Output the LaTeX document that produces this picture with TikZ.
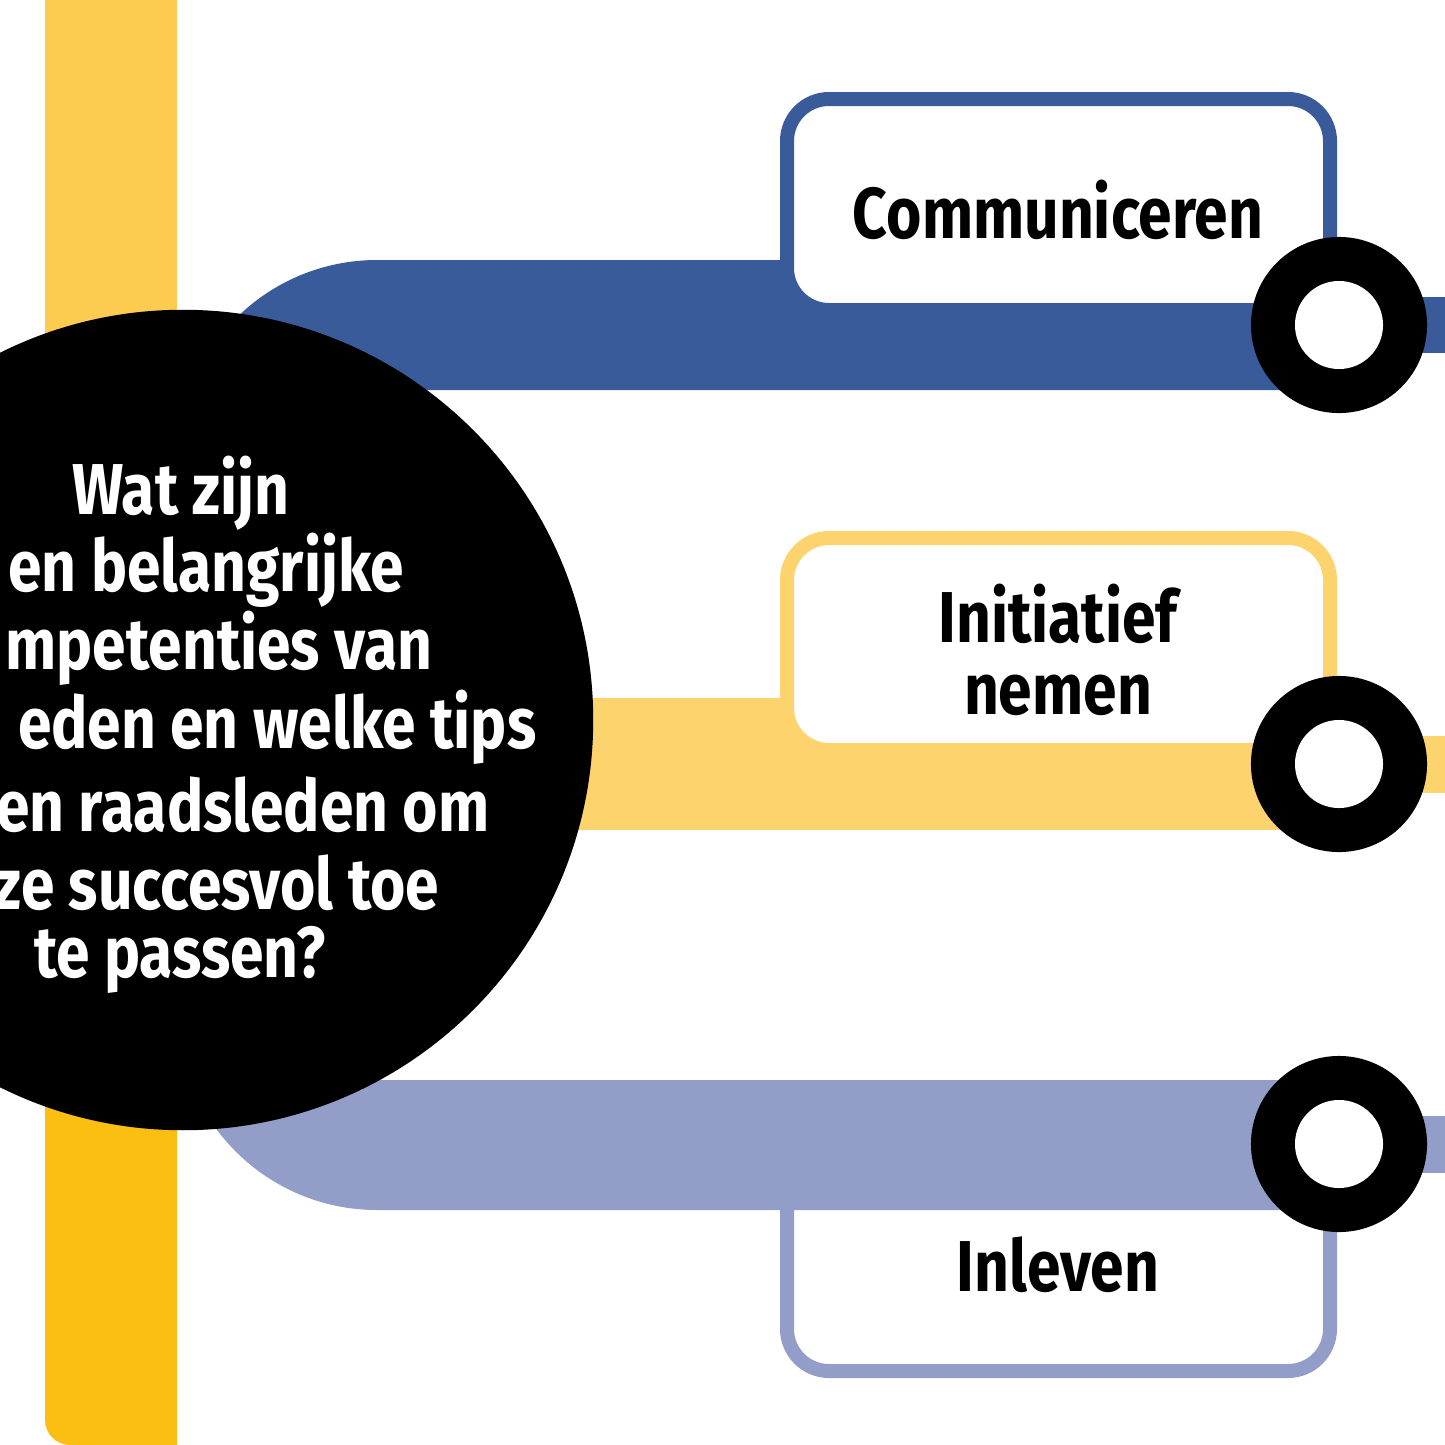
\documentclass[tikz,border=0pt]{standalone}
\usepackage{fontspec}
\newfontfamily\cf[FakeStretch=0.84]{Fira Sans}
\definecolor{cblue}{HTML}{3A5B9A}
\definecolor{cyel}{HTML}{FDD36E}
\definecolor{barA}{HTML}{FDCB4F}
\definecolor{barB}{HTML}{FABF10}
\definecolor{clav}{HTML}{939EC8}
\tikzset{
 lbl/.style={font=\cf\bfseries\fontsize{20.5}{22}\selectfont, align=center, inner sep=0pt},
 qtxt/.style={font=\cf\bfseries\fontsize{20.5}{22}\selectfont, text=white, inner sep=0pt},
 boxline/.style={line width=0.14cm, fill=white, rounded corners=0.42cm},
}
\begin{document}
\begin{tikzpicture}[x=0.01cm,y=-0.01cm]
\useasboundingbox (0,0) rectangle (1445,1445);
\clip (0,0) rectangle (1445,1445);
% vertical bar
\fill[barA] (45,-10) rectangle (177,720);
\fill[barB] (45,720) [rounded corners=0.25cm]-- (45,1445) [sharp corners]-- (177,1445) -- (177,720) -- cycle;
% blue branch
\fill[cblue] (177,390) [rounded corners=2cm]-- (177,260) [sharp corners]-- (1300,260) -- (1300,390) -- cycle;
\fill[cblue] (1339,297) rectangle (1450,353);
\draw[boxline, draw=cblue] (787,99) rectangle (1330,310);
\node[lbl] (t1) at (1058,210) {Communiceren};
% yellow branch
\fill[cyel] (177,698) rectangle (1300,830);
\fill[cyel] (1339,736) rectangle (1450,793);
\draw[boxline, draw=cyel] (787,538) rectangle (1330,750);
\node[lbl] (t2) at (1058,650) {Initiatief\\[-0.06cm]nemen};
% lavender branch
\draw[boxline, draw=clav] (787,1167) rectangle (1330,1371);
\fill[clav] (177,1080) [sharp corners]-- (1300,1080) -- (1300,1210) [rounded corners=2cm]-- (177,1210) [sharp corners]-- cycle;
\fill[clav] (1339,1116) rectangle (1450,1173);
\node[lbl] (t3) at (1058,1265) {Inleven};
% rings
\foreach \n/\y in {r1/325, r2/764, r3/1144} {
  \node[circle, fill=black, minimum size=1.76cm, inner sep=0pt] (\n) at (1339,\y) {};
  \node[circle, fill=white, minimum size=0.88cm, inner sep=0pt] (\n w) at (1339,\y) {};
}
% big circle
\node[circle, fill=black, minimum size=8.2cm, inner sep=0pt] (big) at (183,720) {};
\node[qtxt] (q1) at (181,493) {Wat zijn};
\node[qtxt, anchor=east] (q2) at (405,570) {en belangrijke};
\node[qtxt, anchor=east] (q3) at (433,648) {mpetenties van};
\node[qtxt, anchor=east] (q4) at (537,727) {eden en welke tips};
\node[qtxt, anchor=east] (q5) at (490,805) {en raadsleden om};
\node[qtxt, anchor=east] (q6) at (440,883) {ze succesvol toe};
\node[qtxt] (q7) at (180,960) {te passen?};
\end{tikzpicture}
\end{document}
